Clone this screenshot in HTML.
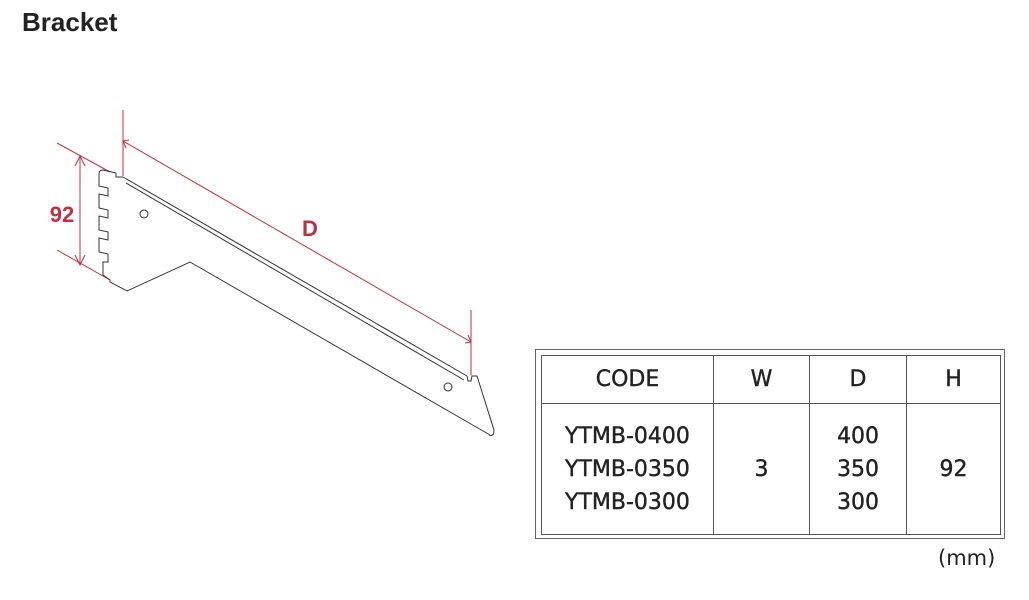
<!DOCTYPE html>
<html><head><style>
body{margin:0;width:1029px;height:600px;background:#fff;position:relative;font-family:"Liberation Sans",sans-serif;overflow:hidden}
.t{position:absolute;left:22px;top:7px;font-size:26px;font-weight:bold;color:#222}
table{position:absolute;left:541px;top:355px;width:460px;height:180px;border-collapse:collapse;font-family:"DejaVu Sans","Liberation Sans",sans-serif;font-size:22px;color:#222;text-align:center;-webkit-text-stroke:0.4px #222}
td{border:1.5px solid #555;padding:0}
.o{position:absolute;left:535px;top:349px;width:470px;height:190px;border:1.5px solid #666;box-sizing:border-box}
.mm{position:absolute;left:938px;top:546px;font-size:21px;color:#222;font-family:"DejaVu Sans",sans-serif}
</style></head><body>
<div class="t">Bracket</div>
<svg width="1029" height="600" style="position:absolute;left:0;top:0">
<g stroke="#c03040" stroke-width="1" fill="none">
<line x1="57" y1="143" x2="110" y2="172"/>
<line x1="57" y1="250" x2="110" y2="280"/>
<line x1="80" y1="156" x2="80" y2="265"/>
<path d="M75 166 L80 156 L85 166 M75 255 L80 265 L85 255"/>
<line x1="123" y1="110" x2="123" y2="176"/>
<line x1="471" y1="310" x2="471" y2="375"/>
<line x1="123" y1="141" x2="471" y2="342"/>
<path d="M129 140 L123 141 L126 148 M465 343 L471 342 L468 335"/>
</g>
<g stroke="#333" stroke-width="1" fill="none">
<path d="M123 177 L467 376 M126 183 L464 380"/>
<path d="M123 177 L116 177 L116 173 L103 170 Q99 170 99 174 L99 186 L108 188 L108 196 L99 194 L99 208 L108 210 L108 218 L99 216 L99 230 L108 232 L108 240 L99 238 L99 252 L108 254 L108 262 L103 262 L103 275 L110 280 L110 282 L127 291 L190 262 L490 435"/>
<path d="M467 376 L468 381 L471 381 L472 376 L477 376 L494 430 Q494 437 489 435"/>
<circle cx="144" cy="214" r="4"/>
<circle cx="448" cy="387" r="4"/>
</g>
<text x="62" y="222" font-size="22" font-weight="bold" fill="#c03040" text-anchor="middle" font-family="Liberation Sans">92</text>
<text x="310" y="236" font-size="22" font-weight="bold" fill="#c03040" text-anchor="middle" font-family="Liberation Sans">D</text>
</svg>
<div class="o"></div>
<table>
<tr style="height:48px"><td style="width:171px">CODE</td><td style="width:95px">W</td><td style="width:96px">D</td><td>H</td></tr>
<tr><td style="line-height:33px">YTMB-0400<br>YTMB-0350<br>YTMB-0300</td><td>3</td><td style="line-height:33px">400<br>350<br>300</td><td>92</td></tr>
</table>
<div class="mm">(mm)</div>
</body></html>
